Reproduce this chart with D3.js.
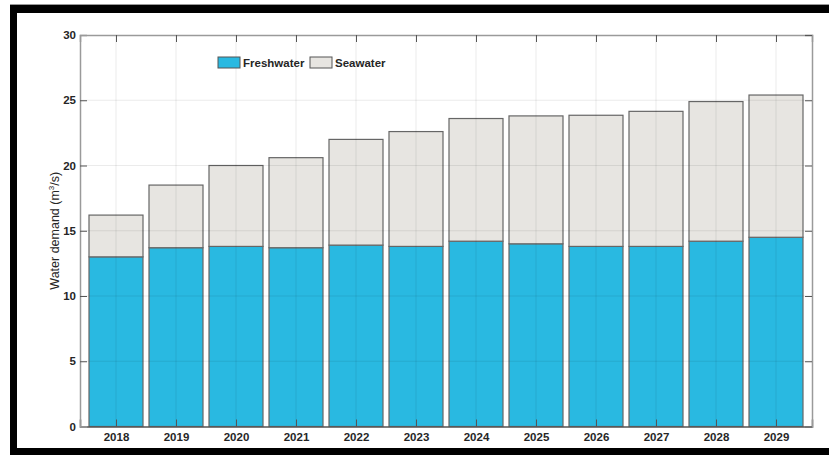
<!DOCTYPE html>
<html>
<head>
<meta charset="utf-8">
<script src="https://cdn.jsdelivr.net/npm/d3@7"></script>
<style>
  body { margin: 0; background: #fff; }
  svg { display: block; font-family: "Liberation Sans", Arial, Helvetica, sans-serif; }
</style>
</head>
<body>
<script>
// data (m^3/s)
const years = [2018, 2019, 2020, 2021, 2022, 2023, 2024, 2025, 2026, 2027, 2028, 2029];
const freshwater = [13.0, 13.7, 13.8, 13.7, 13.9, 13.8, 14.2, 14.0, 13.8, 13.8, 14.2, 14.5];
const seawater = [3.2, 4.8, 6.2, 6.9, 8.1, 8.8, 9.4, 9.8, 10.05, 10.35, 10.7, 10.9];
const yTicks = [0, 5, 10, 15, 20, 25, 30];
const seriesNames = ["Freshwater", "Seawater"];
const seriesColors = ["#29b9e1", "#e7e5e1"];

const width = 829, height = 455;
const margin = {top: 35, right: 17, bottom: 28.5, left: 80};
const innerW = width - margin.left - margin.right;
const innerH = height - margin.top - margin.bottom;

const svg = d3.select("body").append("svg")
    .attr("width", width)
    .attr("height", height);

// black frame of the figure
svg.append("rect").attr("x", 10).attr("y", 4).attr("width", 819).attr("height", 1).attr("fill", "#999");
svg.append("rect").attr("x", 10).attr("y", 5).attr("width", 819).attr("height", 8).attr("fill", "#000");
svg.append("rect").attr("x", 10).attr("y", 5).attr("width", 7).attr("height", 450).attr("fill", "#000");
svg.append("rect").attr("x", 10).attr("y", 448).attr("width", 819).attr("height", 7).attr("fill", "#000");

const g = svg.append("g").attr("transform", `translate(${margin.left},${margin.top})`);

const x = d3.scaleLinear().domain([2017.4, 2029.6]).range([0, innerW]);
const y = d3.scaleLinear().domain([0, 30]).range([innerH, 0]);
const barW = x(2018.9) - x(2018);

const rows = years.map((yr, i) => ({year: yr, Freshwater: freshwater[i], Seawater: seawater[i]}));
const stacked = d3.stack().keys(seriesNames)(rows);

// bars
g.append("g")
  .selectAll("g")
  .data(stacked)
  .join("g")
    .attr("fill", (d, i) => seriesColors[i])
  .selectAll("rect")
  .data(d => d)
  .join("rect")
    .attr("x", d => x(d.data.year) - barW / 2)
    .attr("y", d => y(d[1]))
    .attr("width", barW)
    .attr("height", d => y(d[0]) - y(d[1]))
    .attr("stroke", "#666")
    .attr("stroke-width", 1.2);

// grid on top of bars
const grid = g.append("g").attr("stroke", "#000").attr("stroke-opacity", 0.08);
grid.selectAll("line.gx").data(years).join("line")
    .attr("x1", d => x(d)).attr("x2", d => x(d))
    .attr("y1", 0).attr("y2", innerH);
grid.selectAll("line.gy").data(yTicks.slice(1, -1)).join("line")
    .attr("x1", 0).attr("x2", innerW)
    .attr("y1", d => y(d)).attr("y2", d => y(d));

// axes with inward ticks
const tickLen = 7;
const xAxis = g.append("g")
    .attr("transform", `translate(0,${innerH})`)
    .call(d3.axisBottom(x).tickValues(years).tickFormat(d3.format("d")).tickSize(-tickLen).tickPadding(6));
const xTop = g.append("g")
    .call(d3.axisTop(x).tickValues(years).tickFormat("").tickSize(-tickLen));
const yAxis = g.append("g")
    .call(d3.axisLeft(y).tickValues(yTicks).tickSize(-tickLen).tickPadding(4));
const yRight = g.append("g")
    .attr("transform", `translate(${innerW},0)`)
    .call(d3.axisRight(y).tickValues(yTicks).tickFormat("").tickSize(-tickLen));

[xAxis, xTop, yAxis, yRight].forEach(a => {
  a.select(".domain").attr("stroke", "#9a9a9a").attr("stroke-width", 1.5);
  a.selectAll(".tick line").attr("stroke", "#555").attr("stroke-width", 1);
  a.selectAll(".tick text")
    .attr("fill", "#262626")
    .attr("font-size", 11.5)
    .attr("font-weight", "bold")
    .attr("font-family", "'Liberation Sans', Arial, sans-serif");
});
yAxis.selectAll(".tick").filter(d => d === 0 || d === 30).select("line").attr("stroke-opacity", 0);
xAxis.select(".domain").attr("stroke", "#555");

// y axis label
const yl = svg.append("text")
    .attr("transform", `translate(59,${margin.top + innerH / 2}) rotate(-90)`)
    .attr("text-anchor", "middle")
    .attr("font-size", 12.5)
    .attr("fill", "#262626");
yl.append("tspan").text("Water demand (m");
yl.append("tspan").attr("font-size", 8).attr("dy", -5).text("3");
yl.append("tspan").attr("dy", 5).text("/s)");

// legend
const legend = svg.append("g").attr("transform", "translate(218,57)");
const items = legend.selectAll("g")
  .data(seriesNames)
  .join("g")
    .attr("transform", (d, i) => `translate(${i * 92},0)`);
items.append("rect")
    .attr("width", 22).attr("height", 11)
    .attr("fill", (d, i) => seriesColors[i])
    .attr("stroke", "#555").attr("stroke-width", 1);
items.append("text")
    .attr("x", 25).attr("y", 10)
    .attr("font-size", 11.5)
    .attr("font-weight", "bold")
    .attr("fill", "#262626")
    .text(d => d);
</script>
</body>
</html>
